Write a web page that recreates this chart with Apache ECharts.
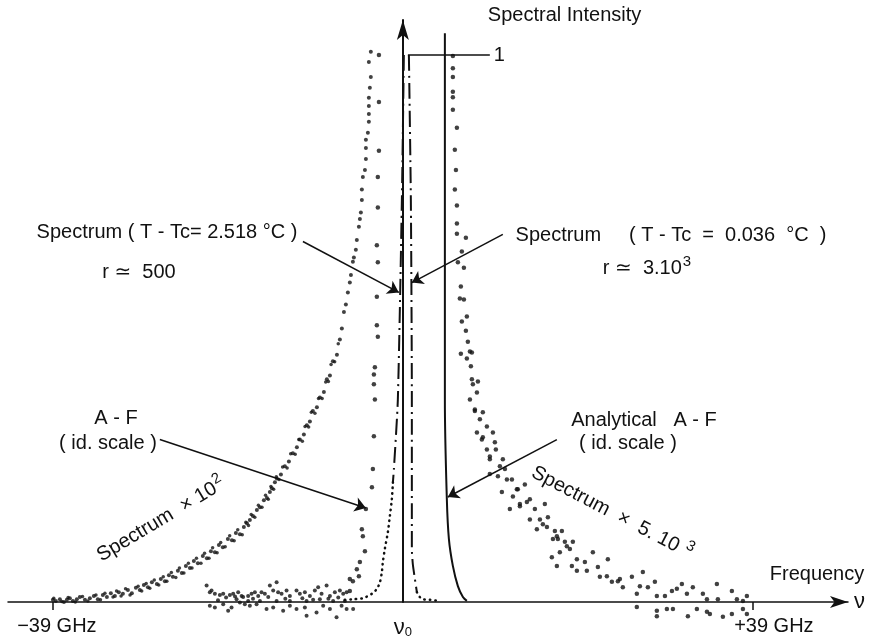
<!DOCTYPE html>
<html>
<head>
<meta charset="utf-8">
<script src="https://cdn.jsdelivr.net/npm/echarts@6/dist/echarts.min.js"></script>
<style>
  html, body { margin: 0; padding: 0; background: #fff; }
  #chart { width: 870px; height: 639px; }
</style>
</head>
<body>
<div id="chart"></div>
<script>
// frequency offset from nu0 in GHz, intensity relative to the peak (=1)
var wideLeft = [ // Spectrum x 10^2, T-Tc = 2.518 C
  [-39.00,0.004],[-38.67,0.002],[-38.22,0.005],[-37.77,0.000],[-37.44,0.004],[-37.11,0.007],[-36.77,0.002],[-36.33,0.005],
  [-35.99,0.009],[-35.43,0.004],[-34.88,0.007],[-34.43,0.011],[-33.99,0.005],[-33.43,0.013],[-32.98,0.009],[-32.54,0.016],
  [-32.09,0.011],[-31.65,0.018],[-31.20,0.015],[-30.64,0.022],[-30.20,0.016],[-29.75,0.026],[-29.31,0.022],[-28.86,0.031],
  [-28.41,0.027],[-27.97,0.036],[-27.41,0.033],[-26.97,0.042],[-26.52,0.038],[-26.07,0.049],[-25.63,0.046],[-25.07,0.057],
  [-24.63,0.053],[-24.18,0.066],[-23.73,0.062],[-23.29,0.075],[-22.84,0.071],[-22.29,0.084],[-21.84,0.080],[-21.39,0.093],
  [-20.95,0.091],[-20.50,0.104],[-20.06,0.100],[-19.50,0.115],[-19.05,0.113],[-18.61,0.126],[-18.16,0.124],[-17.72,0.137],
  [-17.38,0.144],[-17.05,0.150],[-16.71,0.157],[-16.27,0.168],[-15.93,0.173],[-15.49,0.186],[-15.15,0.190],[-14.82,0.201],
  [-14.60,0.208],[-14.26,0.219],[-14.04,0.226],[-13.59,0.233],[-13.15,0.248],[-12.70,0.257],[-12.26,0.272],[-11.81,0.283],
  [-11.48,0.297],[-11.03,0.306],[-10.70,0.323],[-10.36,0.330],[-10.03,0.349],[-9.58,0.356],[-9.25,0.374],[-8.80,0.384],
  [-8.47,0.407],[-8.13,0.414],[-7.80,0.440],[-7.35,0.452],[-7.02,0.480],[-6.80,0.500],[-6.57,0.530],[-6.35,0.544],
  [-6.13,0.566],[-5.91,0.584],[-5.79,0.598],[-5.57,0.622],[-5.46,0.630],[-5.24,0.644],[-5.13,0.662],[-4.90,0.686],
  [-4.79,0.700],[-4.68,0.712],[-4.57,0.735],[-4.57,0.754],[-4.46,0.777],[-4.23,0.790],[-4.12,0.810],[-4.12,0.830],
  [-4.12,0.845],[-3.90,0.858],[-3.79,0.878],[-3.79,0.892],[-3.79,0.907],[-3.79,0.922],[-3.68,0.940],[-3.57,0.960],
  [-3.79,0.987],[-3.57,1.006]
];
var wideLeftB = [ // second row of dots in the same band
  [-38.9,0.007],[-38.0,0.001],[-37.3,0.008],[-36.5,0.000],[-35.7,0.010],[-35.1,0.002],[-34.2,0.013],[-33.7,0.004],
  [-33.2,0.016],[-32.3,0.009],[-31.9,0.020],[-31.4,0.011],[-30.9,0.024],[-30.4,0.013],[-29.5,0.029],[-29.1,0.020],
  [-28.6,0.034],[-28.2,0.025],[-27.7,0.040],[-27.2,0.031],[-26.7,0.046],[-26.3,0.038],[-25.8,0.054],[-25.3,0.045],
  [-24.9,0.062],[-24.4,0.053],[-23.9,0.071],[-23.5,0.062],[-23.0,0.080],[-22.5,0.071],[-22.1,0.089],[-21.6,0.080],
  [-21.2,0.099],[-20.7,0.090],[-20.3,0.109],[-19.8,0.101],[-19.3,0.121],[-18.8,0.112],[-18.4,0.132],[-17.9,0.123],
  [-17.5,0.146],[-17.2,0.140],[-16.9,0.160],[-16.5,0.155],[-16.1,0.177],[-15.7,0.173],[-15.3,0.195],[-15.0,0.188],
  [-14.7,0.211],[-14.4,0.206],[-14.1,0.229],[-13.8,0.224],[-13.4,0.247],[-12.9,0.245],[-12.5,0.271],[-12.0,0.270],
  [-11.6,0.297],[-11.2,0.294],[-10.9,0.321],[-10.5,0.320],[-10.2,0.347],[-9.8,0.345],[-9.4,0.372],[-9.0,0.372],
  [-8.6,0.402],[-8.3,0.403],[-8.0,0.434],[-7.6,0.439],[-7.2,0.472]
];
var afLeft = [ // A-F, id. scale
  [-2.67,1.000],[-2.67,0.914],[-2.67,0.825],[-2.79,0.777],[-2.79,0.721],[-2.90,0.652],[-2.79,0.621],[-2.90,0.558],
  [-2.90,0.506],[-2.79,0.485],[-3.12,0.429],[-3.23,0.416],[-3.23,0.398],[-3.12,0.370],[-3.23,0.303],[-3.34,0.243],
  [-3.45,0.210],[-4.12,0.170],[-4.57,0.133],[-4.46,0.120],[-4.23,0.093],[-4.79,0.073],[-4.90,0.047],[-5.13,0.060],
  [-5.57,0.038],[-5.91,0.042],[-5.91,0.020]
];
var noiseLeft = [
  [-21.87,0.030],[-21.32,0.021],[-21.51,0.018],[-20.95,0.015],[-20.39,0.013],[-20.02,0.015],[-19.28,0.013],[-18.91,0.015],
  [-18.35,0.018],[-17.97,0.011],[-17.80,0.009],[-17.24,0.011],[-16.86,0.015],[-16.49,0.018],[-16.12,0.011],[-15.75,0.018],
  [-15.38,0.015],[-14.82,0.030],[-14.45,0.021],[-14.07,0.036],[-13.90,0.018],[-13.52,0.015],[-12.96,0.021],[-12.59,0.011],
  [-11.85,0.021],[-11.48,0.015],[-10.92,0.018],[-10.36,0.011],[-9.81,0.021],[-9.44,0.027],[-9.06,0.015],[-8.50,0.030],
  [-8.13,0.011],[-7.58,0.018],[-7.02,0.021],[-6.65,0.015],[-6.27,0.018],[-21.51,-0.007],[-20.95,-0.010],[-20.02,-0.004],
  [-19.47,-0.016],[-19.09,-0.010],[-18.16,-0.001],[-17.61,-0.004],[-17.05,-0.007],[-16.30,-0.004],[-15.19,-0.013],[-14.45,-0.010],
  [-13.34,-0.016],[-12.59,-0.007],[-11.85,-0.013],[-10.92,-0.010],[-10.73,-0.025],[-9.62,-0.019],[-8.88,-0.007],[-8.13,-0.013],
  [-7.39,-0.028],[-6.83,-0.007],[-6.27,-0.013],[-5.54,-0.013],[-18.53,0.005],[-17.24,0.002],[-15.93,0.002],[-14.07,0.002],
  [-12.59,0.002],[-10.73,0.002],[-9.25,0.005],[-7.77,0.002],[-6.46,0.002],[-19.7,0.008],[-18.7,0.010],[-16.7,0.006],
  [-15.0,0.009],[-13.1,0.006],[-11.2,0.007],[-10.0,0.004],[-8.3,0.006],[-7.2,0.008],[-20.6,0.003]
];
var wideRight = [ // Spectrum x 5.10^3, T-Tc = 0.036 C
  [5.57,0.998],[5.57,0.976],[5.57,0.960],[5.57,0.933],[5.57,0.923],[5.57,0.900],[6.02,0.867],[5.79,0.827],
  [5.91,0.790],[5.79,0.754],[6.02,0.725],[6.02,0.692],[6.02,0.673],[7.02,0.666],[6.57,0.641],[6.13,0.621],
  [6.80,0.611],[6.46,0.577],[6.35,0.555],[6.80,0.553],[7.13,0.522],[6.57,0.513],[7.02,0.496],[7.24,0.476],
  [6.46,0.454],[7.47,0.458],[7.69,0.456],[7.13,0.445],[7.58,0.431],[7.69,0.407],[8.36,0.403],[7.80,0.398],
  [8.25,0.383],[7.47,0.370],[8.02,0.349],[8.58,0.334],[8.25,0.310],[8.91,0.301],[9.36,0.279],[10.03,0.310],
  [10.36,0.279],[9.69,0.261],[10.81,0.248],[11.37,0.243],[11.59,0.224],[12.81,0.206],[11.03,0.201],[12.26,0.193],
  [13.82,0.183],[13.04,0.179],[14.15,0.151],[14.93,0.133],[9.69,0.234],[11.92,0.170],[13.59,0.215],[15.82,0.179],
  [15.60,0.142],[16.16,0.155],[16.94,0.130],[17.72,0.130],[17.27,0.115],[18.05,0.110],[18.61,0.097],[18.94,0.110],
  [16.60,0.082],[17.16,0.066],[18.83,0.066],[19.39,0.057],[20.28,0.073],[20.50,0.057],[21.73,0.064],[21.95,0.046],
  [22.84,0.078],[23.29,0.037],[23.96,0.038],[24.51,0.027],[25.52,0.046],[26.07,0.015],[26.41,0.029],[26.74,0.055],
  [27.30,0.027],[28.08,0.037],[28.30,0.011],[29.20,0.011],[29.98,0.020],[30.53,0.024],[31.09,0.033],[31.65,0.015],
  [32.31,0.027],[33.43,0.015],[33.88,0.005],[34.99,0.033],[35.10,0.005],[36.66,0.020],[37.22,0.005],[37.89,0.002],
  [38.33,0.011],[16.72,0.115],[17.49,0.091],[19.39,0.078],[21.17,0.091],[22.73,0.047],[24.18,0.042],
  [8.02,0.352],[8.91,0.347],[9.36,0.321],[8.80,0.297],[10.25,0.292],[9.69,0.266],[11.14,0.261],[10.59,0.230],
  [12.15,0.224],[12.70,0.206],[13.04,0.175],[14.15,0.188],[14.71,0.170],[15.27,0.151],[16.05,0.137],[17.16,0.120],
  [18.27,0.102],
  [26.07,-0.009],[28.30,-0.016],[29.42,-0.013],[30.09,-0.013],[28.30,-0.026],[31.76,-0.026],[32.76,-0.013],[33.88,-0.018],
  [34.21,-0.022],[35.66,-0.027],[36.66,-0.022],[37.89,-0.013],[38.33,-0.022]
];
var sharpLeft = [[0.11,1.000],[-0.11,0.735],[-0.56,0.370],[-1.00,0.243],[-1.11,0.219]]; // T-Tc = 2.518 C
var sharpLeftFoot = [[-1.11,0.219],[-1.23,0.188],[-1.45,0.157],[-1.67,0.128],[-2.01,0.097],[-2.23,0.073],[-2.34,0.055],
  [-2.56,0.036],[-2.90,0.024],[-3.45,0.015],[-4.46,0.007],[-5.57,0.005],[-6.46,0.004]];
var sharpRight = [[0.67,1.000],[0.89,0.735],[1.00,0.370],[1.00,0.097],[1.11,0.069],[1.34,0.042],[1.56,0.018]]; // T-Tc = 0.036 C
var sharpRightFoot = [[1.56,0.018],[1.89,0.009],[2.23,0.005],[3.01,0.004],[4.12,0.002]];
var analyticRight = [[4.68,1.040],[4.68,0.735],[4.68,0.370],[4.90,0.188],[5.13,0.115],[5.57,0.066],[6.13,0.029],
  [6.69,0.009],[7.13,0.002]];
var tickValues = [-39, 39];
var labelValues = [-39, 0, 39];

var FONT = "'Liberation Sans', 'DejaVu Sans', sans-serif";
var chart = echarts.init(document.getElementById('chart'));

var richSup = {
  n: { fontSize: 20, fontFamily: FONT, color: '#111', verticalAlign: 'bottom' },
  sup: { fontSize: 15, fontFamily: FONT, color: '#111', verticalAlign: 'bottom', padding: [0, 0, 9, 1] }
};

function txt(str, x, y, rot) {
  var o = {
    type: 'text', x: x, y: y, z: 100,
    style: { text: str, font: '20px ' + FONT, fill: '#111', align: 'center', verticalAlign: 'middle', rich: richSup }
  };
  if (rot) o.rotation = rot;
  return o;
}

function arrow(from, to) {
  return [{ coord: from }, { coord: to }];
}

var dots = { color: '#111' };

var option = {
  animation: false,
  backgroundColor: '#fff',
  grid: { left: 8, right: 22, top: 20, bottom: 36 },
  xAxis: {
    type: 'value', min: -44, max: 49.6,
    name: 'ν', nameLocation: 'end', nameGap: 6,
    nameTextStyle: { fontSize: 22, color: '#111', fontFamily: FONT },
    splitLine: { show: false },
    axisLine: { onZero: true, lineStyle: { color: '#111', width: 1.5 }, symbol: ['none', 'arrow'], symbolSize: [9, 18] },
    axisTick: { customValues: tickValues, length: 8, lineStyle: { color: '#111', width: 1.5 } },
    axisLabel: {
      customValues: labelValues, margin: 14, color: '#111', fontFamily: FONT, fontSize: 20,
      formatter: function (v) {
        if (v === 0) return '{nu|ν}{sub|0}';
        if (v < 0) return '{l|−39 GHz}';
        return '{r|+39 GHz}';
      },
      rich: {
        nu: { fontSize: 22, fontFamily: FONT, color: '#111' },
        sub: { fontSize: 13, fontFamily: FONT, color: '#111', verticalAlign: 'bottom', padding: [10, 0, 0, 0] },
        l: { fontSize: 20, fontFamily: FONT, color: '#111', padding: [0, 0, 0, 8] },
        r: { fontSize: 20, fontFamily: FONT, color: '#111', padding: [0, 0, 0, 42] }
      }
    }
  },
  yAxis: {
    type: 'value', min: 0, max: 1.064,
    name: 'Spectral Intensity', nameLocation: 'end', nameGap: 5,
    nameTextStyle: { fontSize: 20, color: '#111', fontFamily: FONT, align: 'left', verticalAlign: 'middle', padding: [0, 0, 0, 85] },
    splitLine: { show: false },
    axisLine: { onZero: true, lineStyle: { color: '#111', width: 2 }, symbol: ['none', 'arrow'], symbolSize: [9, 20] },
    axisTick: { show: false },
    axisLabel: { show: false }
  },
  series: [
    { name: 'Spectrum ×10²', type: 'scatter', data: wideLeft, symbolSize: 4, itemStyle: dots, clip: false },
    { name: 'Spectrum ×10² b', type: 'scatter', data: wideLeftB, symbolSize: 3.5, itemStyle: dots, clip: false },
    { name: 'A-F (id. scale)', type: 'scatter', data: afLeft, symbolSize: 4.5, itemStyle: dots, clip: false },
    { name: 'noise', type: 'scatter', data: noiseLeft, symbolSize: 4, itemStyle: dots, clip: false },
    { name: 'Spectrum ×5.10³', type: 'scatter', data: wideRight, symbolSize: 4.5, itemStyle: dots, clip: false },
    { name: 'Spectrum (T-Tc=2.518 °C)', type: 'line', data: sharpLeft, showSymbol: false, smooth: 0.2,
      lineStyle: { color: '#111', width: 2, type: [16, 5, 2, 5] } },
    { name: 'foot 2.518', type: 'line', data: sharpLeftFoot, showSymbol: false, smooth: 0.3,
      lineStyle: { color: '#111', width: 2.5, type: [0.5, 5], cap: 'round' } },
    { name: 'Spectrum (T-Tc=0.036 °C)', type: 'line', data: sharpRight, showSymbol: false, smooth: 0.2,
      lineStyle: { color: '#111', width: 2, type: [16, 5, 2, 5] } },
    { name: 'foot 0.036', type: 'line', data: sharpRightFoot, showSymbol: false, smooth: 0.3,
      lineStyle: { color: '#111', width: 2.5, type: [0.5, 5], cap: 'round' } },
    { name: 'Analytical A-F', type: 'line', data: analyticRight, showSymbol: false, smooth: 0.35,
      lineStyle: { color: '#111', width: 2 },
      markLine: {
        silent: true, symbol: ['none', 'arrow'], symbolSize: 11,
        lineStyle: { color: '#111', width: 1.5, type: 'solid' },
        label: { show: false },
        data: [
          arrow([-11.14, 0.659], [-0.45, 0.566]),
          arrow([11.14, 0.672], [1.00, 0.584]),
          arrow([-27.08, 0.297], [-4.12, 0.172]),
          arrow([17.16, 0.297], [5.01, 0.192]),
          [{ coord: [0.56, 1], symbol: 'none' },
           { coord: [9.69, 1], symbol: 'none',
             label: { show: true, position: 'end', formatter: '1', fontSize: 20, color: '#111', fontFamily: FONT, distance: 4 } }]
        ]
      }
    }
  ],
  graphic: [
    txt('Spectrum ( T - Tc= 2.518 °C )', 167, 232),
    txt('r ≃  500', 139, 272),
    txt('Spectrum     ( T - Tc  =  0.036  °C  )', 671, 235),
    txt('{n|r ≃  3.10}{sup|3}', 647, 266),
    txt('A - F', 116, 418),
    txt('( id. scale )', 108, 443),
    txt('Analytical   A - F', 644, 420),
    txt('( id. scale )', 628, 443),
    txt('Frequency', 817, 574),
    txt('{n|Spectrum  × 10}{sup|2}', 160, 518, 0.54),
    txt('{n|Spectrum  ×  5. 10 }{sup|3}', 613, 511, -0.48)
  ]
};
chart.setOption(option);
</script>
</body>
</html>
